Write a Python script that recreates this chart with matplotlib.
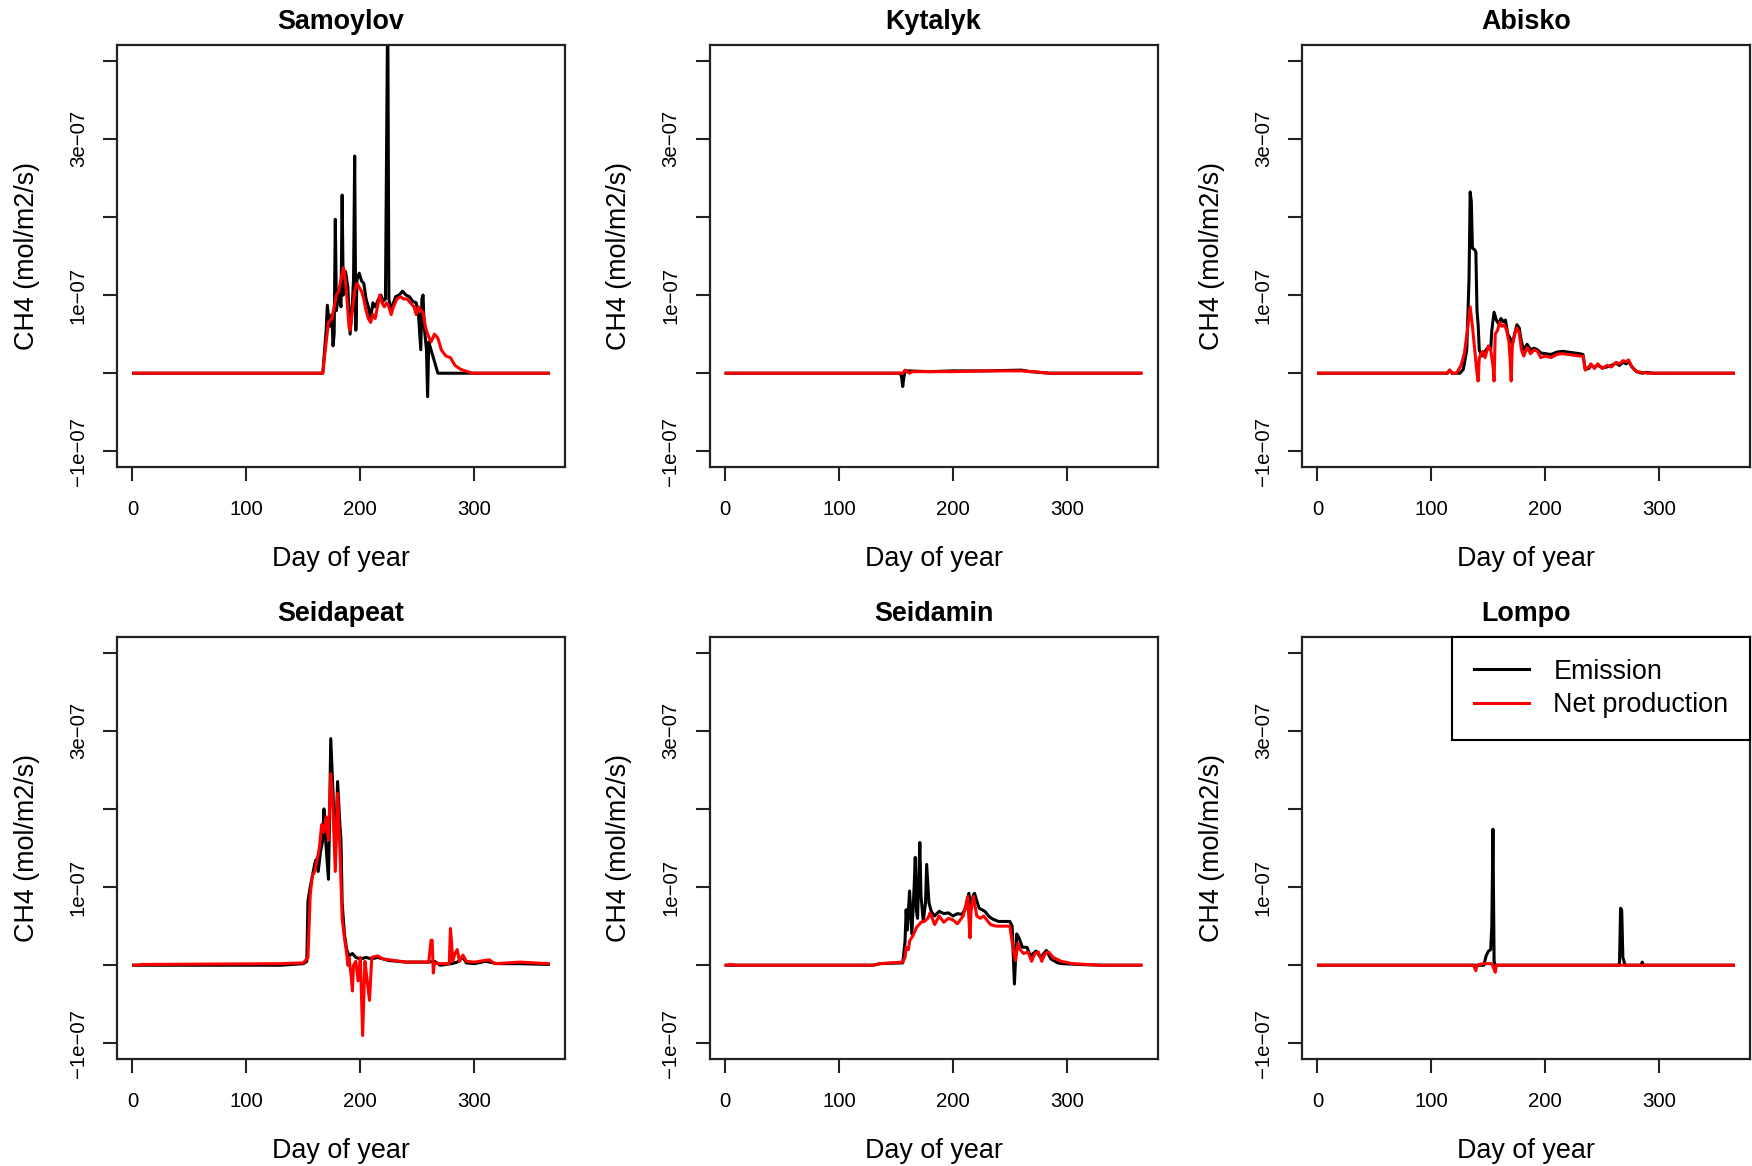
import numpy as np
import matplotlib
matplotlib.use("Agg")
from matplotlib import pyplot as plt

plt.rcParams['font.family'] = ['Liberation Sans', 'DejaVu Sans']

# CH4 fluxes, in units of 1e-7 mol/m2/s, at day-of-year breakpoints
samoylov_em_day = [1, 167, 170, 171, 173, 175, 176, 177, 178, 179, 181, 183, 184, 185, 187, 189, 191, 193, 194,
                   195, 196, 197, 199, 201, 203, 205, 207, 209, 211, 213, 216, 218, 220, 222, 224, 225, 227, 229,
                   231, 234, 237, 240, 243, 246, 249, 251, 253, 254, 255, 256, 258, 259, 260, 262, 265, 268, 365]
samoylov_em = [0, 0, 0.55, 0.87, 0.6, 0.75, 0.35, 0.5, 1.97, 0.8, 1.05, 0.85, 2.28, 1.0, 1.3, 1.1, 0.5, 0.9, 1.2,
               2.78, 0.55, 1.2, 1.28, 1.18, 1.15, 0.95, 0.85, 0.7, 0.9, 0.85, 0.95, 1.0, 0.92, 0.95, 4.8, 0.95, 0.8,
               0.9, 0.98, 1.0, 1.05, 1.0, 0.98, 0.92, 0.9, 0.75, 0.3, 0.95, 1.0, 0.6, 0.3, -0.3, 0.4, 0.3, 0.15, 0, 0]
samoylov_np_day = [1, 167, 170, 172, 175, 177, 179, 181, 183, 185, 186, 188, 190, 191, 193, 195, 197, 199, 201, 203,
                   205, 207, 209, 211, 213, 215, 217, 219, 221, 223, 225, 227, 229, 232, 235, 238, 241, 244, 247,
                   249, 251, 253, 255, 257, 259, 262, 265, 268, 271, 275, 279, 283, 288, 298, 365]
samoylov_np = [0, 0, 0.4, 0.65, 0.7, 0.85, 1.0, 1.05, 1.2, 1.35, 1.3, 1.0, 0.6, 0.55, 0.8, 1.05, 1.15, 1.1, 1.05,
               0.95, 0.8, 0.7, 0.65, 0.75, 0.7, 0.85, 1.0, 0.9, 0.85, 0.9, 0.85, 0.75, 0.85, 0.95, 0.98, 0.95, 0.95,
               0.9, 0.85, 0.75, 0.85, 0.8, 0.78, 0.6, 0.5, 0.4, 0.5, 0.45, 0.3, 0.22, 0.2, 0.1, 0.05, 0, 0]

kytalyk_em_day = [1, 154, 155, 156, 157, 158, 160, 180, 200, 230, 260, 268, 285, 365]
kytalyk_em = [0, 0, -0.05, -0.17, -0.05, 0.02, 0.03, 0.02, 0.03, 0.03, 0.04, 0.02, 0, 0]
kytalyk_np_day = [1, 156, 158, 160, 162, 164, 180, 200, 230, 260, 270, 285, 365]
kytalyk_np = [0, 0, 0.04, 0.02, 0.0, 0.02, 0.02, 0.02, 0.03, 0.03, 0.02, 0, 0]

abisko_em_day = [1, 114, 116, 118, 125, 128, 131, 133, 134, 135, 136, 138, 139, 140, 141, 142, 144, 146, 148, 150,
                 152, 153, 155, 157, 159, 161, 163, 165, 167, 169, 171, 173, 175, 177, 179, 181, 184, 187, 190, 193,
                 196, 200, 205, 210, 215, 220, 225, 230, 233, 235, 238, 240, 243, 246, 250, 254, 258, 262, 265, 268,
                 271, 273, 276, 280, 285, 288, 295, 365]
abisko_em = [0, 0, 0.04, 0, 0, 0.05, 0.3, 1.2, 2.32, 2.2, 1.6, 1.58, 1.55, 0.8, 0.62, 0.3, 0.22, 0.25, 0.3, 0.33,
             0.3, 0.55, 0.78, 0.68, 0.63, 0.7, 0.66, 0.68, 0.5, 0.45, 0.37, 0.5, 0.62, 0.58, 0.4, 0.3, 0.37, 0.3,
             0.32, 0.3, 0.26, 0.25, 0.24, 0.27, 0.28, 0.27, 0.26, 0.25, 0.24, 0.05, 0.06, 0.1, 0.08, 0.1, 0.07,
             0.08, 0.1, 0.13, 0.1, 0.14, 0.12, 0.15, 0.08, 0.02, 0.0, 0.01, 0, 0]
abisko_np_day = [1, 114, 116, 118, 122, 126, 129, 132, 134, 136, 138, 140, 141, 142, 145, 147, 150, 152, 154, 155,
                 156, 158, 160, 162, 164, 166, 168, 169, 170, 171, 173, 175, 177, 179, 181, 184, 187, 190, 193, 196,
                 200, 205, 210, 215, 220, 225, 230, 233, 235, 238, 240, 243, 246, 250, 254, 258, 262, 265, 268, 271,
                 273, 276, 280, 285, 290, 365]
abisko_np = [0, 0, 0.04, 0, 0, 0.1, 0.26, 0.6, 0.85, 0.6, 0.3, 0.0, -0.1, 0.2, 0.28, 0.2, 0.35, 0.3, 0.1, -0.1,
             0.5, 0.55, 0.65, 0.6, 0.62, 0.55, 0.4, 0.2, -0.1, 0.35, 0.5, 0.58, 0.52, 0.3, 0.22, 0.33, 0.25, 0.3,
             0.28, 0.2, 0.22, 0.2, 0.24, 0.25, 0.24, 0.23, 0.22, 0.22, 0.04, 0.08, 0.12, 0.06, 0.12, 0.06, 0.1,
             0.08, 0.14, 0.12, 0.16, 0.15, 0.17, 0.08, 0.02, 0.01, 0, 0]

seidapeat_em_day = [1, 130, 150, 153, 154, 156, 158, 160, 161, 163, 165, 167, 168, 170, 172, 173, 174, 176, 178,
                    180, 182, 183, 184, 186, 188, 190, 193, 196, 200, 205, 210, 215, 220, 225, 240, 260, 265, 270,
                    280, 285, 290, 293, 300, 310, 320, 340, 365]
seidapeat_em = [0, 0, 0.02, 0.05, 0.82, 1.0, 1.15, 1.3, 1.35, 1.2, 1.45, 1.6, 2.0, 1.5, 1.1, 1.9, 2.9, 2.2, 1.4,
                2.35, 1.8, 1.6, 0.8, 0.4, 0.2, 0.12, 0.15, 0.1, 0.08, 0.1, 0.08, 0.1, 0.08, 0.06, 0.04, 0.04, 0.05,
                0.0, 0.02, 0.04, 0.1, 0.03, 0.02, 0.05, 0.02, 0.02, 0.01]
seidapeat_np_day = [1, 10, 130, 150, 154, 156, 158, 160, 162, 164, 166, 168, 170, 172, 174, 176, 178, 180, 182,
                    184, 186, 188, 189, 190, 192, 193, 194, 196, 198, 200, 202, 204, 206, 208, 210, 215, 220, 240,
                    260, 262, 263, 264, 265, 270, 278, 279, 280, 281, 283, 285, 287, 290, 293, 300, 313, 318, 340,
                    365]
seidapeat_np = [0, 0.01, 0.02, 0.03, 0.1, 0.9, 1.15, 1.2, 1.35, 1.5, 1.8, 1.7, 1.9, 1.6, 2.45, 2.0, 1.2, 2.2, 1.5,
                0.6, 0.35, 0.15, 0.0, 0.1, -0.15, -0.33, 0.0, 0.05, -0.2, 0.1, -0.9, 0.05, -0.2, -0.45, 0.1, 0.12,
                0.08, 0.04, 0.04, 0.32, 0.32, -0.1, 0.03, 0.02, 0.02, 0.47, 0.3, 0.05, 0.15, 0.2, 0.05, 0.13, 0.05,
                0.04, 0.07, 0.02, 0.04, 0.02]

seidamin_em_day = [1, 130, 136, 156, 158, 159, 160, 162, 164, 166, 167, 168, 169, 171, 172, 174, 176, 177, 179,
                   181, 184, 188, 192, 196, 200, 204, 208, 212, 214, 216, 218, 219, 223, 228, 232, 235, 240, 244,
                   250, 252, 254, 256, 258, 261, 265, 268, 273, 277, 282, 286, 292, 296, 310, 330, 365]
seidamin_em = [0, 0, 0.02, 0.03, 0.3, 0.71, 0.45, 0.95, 0.4, 1.0, 1.38, 0.7, 0.6, 1.57, 0.9, 0.56, 0.8, 1.29, 0.8,
               0.69, 0.63, 0.69, 0.66, 0.67, 0.63, 0.66, 0.65, 0.75, 0.92, 0.74, 0.9, 0.92, 0.73, 0.69, 0.62, 0.59,
               0.56, 0.56, 0.56, 0.5, -0.24, 0.4, 0.35, 0.23, 0.23, 0.12, 0.18, 0.1, 0.19, 0.08, 0.03, 0.02, 0.01,
               0, 0]
seidamin_np_day = [1, 5, 10, 130, 136, 156, 158, 159, 161, 162, 165, 168, 172, 175, 178, 180, 184, 188, 192, 196,
                   200, 204, 209, 211, 213, 215, 216, 218, 221, 224, 227, 233, 238, 244, 250, 253, 255, 257, 259,
                   262, 266, 269, 272, 275, 278, 281, 284, 288, 295, 305, 330, 365]
seidamin_np = [0, 0.01, 0.0, 0, 0.02, 0.04, 0.1, 0.23, 0.2, 0.31, 0.38, 0.48, 0.55, 0.56, 0.6, 0.67, 0.52, 0.63,
               0.55, 0.6, 0.58, 0.53, 0.63, 0.75, 0.88, 0.35, 0.7, 0.88, 0.63, 0.6, 0.63, 0.52, 0.5, 0.5, 0.5, 0.2,
               0.06, 0.28, 0.2, 0.15, 0.17, 0.05, 0.15, 0.17, 0.05, 0.15, 0.17, 0.1, 0.05, 0.02, 0.0, 0]

lompo_em_day = [1, 146, 148, 150, 152, 153, 154, 155, 156, 265, 266, 267, 268, 269, 270, 284, 285, 286, 365]
lompo_em = [0, 0, 0.12, 0.18, 0.2, 0.5, 1.74, 0.05, 0, 0, 0.73, 0.7, 0.1, 0.05, 0, 0, 0.04, 0, 0]
lompo_np_day = [1, 137, 139, 140, 145, 150, 153, 155, 156, 157, 365]
lompo_np = [0, 0, -0.07, 0.0, 0.02, 0.02, 0.02, -0.05, -0.09, 0, 0]

sites = ['Samoylov', 'Kytalyk', 'Abisko', 'Seidapeat', 'Seidamin', 'Lompo']
emission = [(samoylov_em_day, samoylov_em), (kytalyk_em_day, kytalyk_em), (abisko_em_day, abisko_em),
            (seidapeat_em_day, seidapeat_em), (seidamin_em_day, seidamin_em), (lompo_em_day, lompo_em)]
net_prod = [(samoylov_np_day, samoylov_np), (kytalyk_np_day, kytalyk_np), (abisko_np_day, abisko_np),
            (seidapeat_np_day, seidapeat_np), (seidamin_np_day, seidamin_np), (lompo_np_day, lompo_np)]

yticks = [-1e-7, 0, 1e-7, 2e-7, 3e-7, 4e-7]
ytick_labels = ['\u22121e\u221207', '', '1e\u221207', '', '3e\u221207', '']
xticks = [0, 100, 200, 300]

fig = plt.figure(figsize=(17.52, 11.66), dpi=100)
W, H = 1752.0, 1166.0
lefts = [117, 709.5, 1302]
tops = [45, 637]
for i, site in enumerate(sites):
    r, c = divmod(i, 3)
    ax = fig.add_axes([lefts[c] / W, 1 - (tops[r] + 422) / H, 448 / W, 422 / H])
    ed, ev = emission[i]
    nd, nv = net_prod[i]
    l1, = ax.plot(ed, np.array(ev) * 1e-7, color='black', lw=2.2, label='Emission')
    l2, = ax.plot(nd, np.array(nv) * 1e-7, color='#ff0000', lw=2.2, label='Net production')
    ax.set_xlim(1 - 0.04 * 364, 365 + 0.04 * 364)
    ax.set_ylim(-1.2e-7, 4.2e-7)
    ax.set_xticks(xticks)
    ax.set_xticklabels([str(x) for x in xticks])
    ax.set_yticks(yticks)
    ax.set_yticklabels(ytick_labels, rotation=90, va='center')
    ax.tick_params(axis='both', direction='out', length=10, width=1.5, color='#222222', labelsize=14.7)
    ax.tick_params(axis='x', pad=13.5)
    ax.tick_params(axis='y', pad=11)
    for sp in ax.spines.values():
        sp.set_linewidth(1.6)
        sp.set_color('#222222')
    ax.set_title(site, fontsize=19.4, fontweight='bold', pad=11.5)
    ax.set_xlabel('Day of year', fontsize=19.4, labelpad=20)
    ax.set_ylabel('CH4 (mol/m2/s)', fontsize=19.4, labelpad=21)
    if site == 'Lompo':
        leg = ax.legend(handles=[l1, l2], loc='upper right', borderaxespad=0, fontsize=19.4,
                        fancybox=False, framealpha=1, edgecolor='black', handlelength=2.05,
                        handletextpad=0.9, labelspacing=0.28, borderpad=0.8)
        leg.get_frame().set_linewidth(1.5)

fig.savefig('out.png', dpi=100)
